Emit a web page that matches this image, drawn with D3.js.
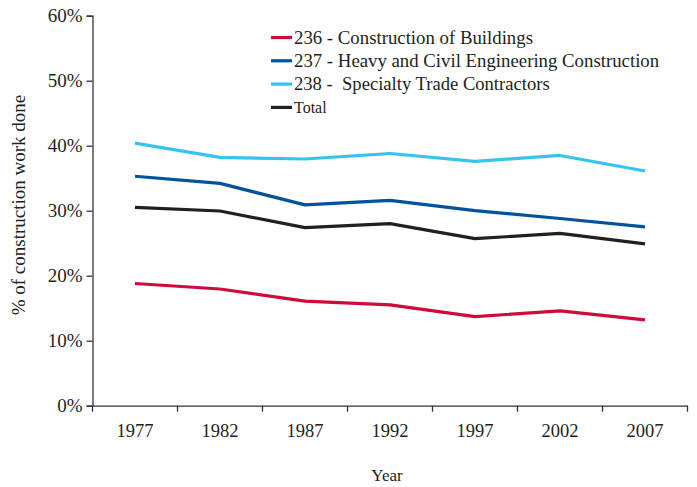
<!DOCTYPE html>
<html>
<head>
<meta charset="utf-8">
<script src="https://cdn.jsdelivr.net/npm/d3@7"></script>
<style>
  html, body { margin: 0; padding: 0; background: #fff; }
  svg text { font-family: "Liberation Serif", "Times New Roman", serif; fill: #231f20; white-space: pre; }
</style>
</head>
<body>
<svg id="chart" width="697" height="487"></svg>
<script>
const years = ["1977", "1982", "1987", "1992", "1997", "2002", "2007"];
const buildings236 = [18.8, 17.95, 16.1, 15.5, 13.7, 14.6, 13.2];
const heavyCivil237 = [35.3, 34.2, 30.9, 31.6, 30.0, 28.8, 27.5];
const specialty238 = [40.4, 38.2, 37.95, 38.8, 37.6, 38.5, 36.1];
const total = [30.5, 29.95, 27.4, 28.0, 25.7, 26.5, 24.9];
const seriesNames = ["236 - Construction of Buildings", "237 - Heavy and Civil Engineering Construction", "238 -  Specialty Trade Contractors", "Total"];
const yTicks = [0, 10, 20, 30, 40, 50, 60];

const seriesColors = ["#cf0a3c", "#00529c", "#36c3f0", "#231f20"];
const seriesValues = [buildings236, heavyCivil237, specialty238, total];
const legendFont = [18.8, 18.8, 18.6, 16];

const svg = d3.select("#chart");
const plotLeft = 92.5, plotRight = 687.5, plotTop = 15.7, plotBottom = 405.7;

const x = d3.scaleBand().domain(years).range([plotLeft, plotRight]);
const y = d3.scaleLinear().domain([0, 60]).range([plotBottom, plotTop]);

// Y axis
const yAxis = svg.append("g")
  .attr("transform", `translate(${plotLeft},0)`)
  .call(d3.axisLeft(y).tickValues(yTicks).tickFormat(d => d + "%").tickSize(6).tickPadding(4));
yAxis.select(".domain").attr("stroke", "#333").attr("stroke-width", 1.3);
yAxis.selectAll(".tick line").attr("stroke", "#333").attr("stroke-width", 1.3);
yAxis.selectAll(".tick text").attr("font-size", 19).attr("fill", "#231f20");

// X axis
const xAxis = svg.append("g")
  .attr("transform", `translate(0,${plotBottom})`)
  .call(d3.axisBottom(x).tickSize(0).tickPadding(18).tickSizeOuter(0));
xAxis.select(".domain").attr("stroke", "#333").attr("stroke-width", 1.3);
xAxis.selectAll(".tick text").attr("font-size", 18.5).attr("fill", "#231f20");
// boundary tick marks between categories
const edges = years.map(d => x(d)).concat([x(years[years.length - 1]) + x.bandwidth()]);
xAxis.selectAll(".edge").data(edges).enter().append("line")
  .attr("x1", d => d).attr("x2", d => d).attr("y1", 0).attr("y2", 6)
  .attr("stroke", "#333").attr("stroke-width", 1.3);

// Axis titles
svg.append("text").attr("x", 387).attr("y", 481).attr("text-anchor", "middle")
  .attr("font-size", 17).text("Year");
svg.append("text").attr("transform", "translate(25,205) rotate(-90)").attr("text-anchor", "middle")
  .attr("font-size", 19).text("% of construction work done");

// Lines
const line = d3.line()
  .x((d, i) => x(years[i]) + x.bandwidth() / 2)
  .y(d => y(d));
seriesValues.forEach((vals, k) => {
  svg.append("path").datum(vals)
    .attr("fill", "none")
    .attr("stroke", seriesColors[k])
    .attr("stroke-width", 3.2)
    .attr("stroke-linejoin", "round")
    .attr("d", line);
});

// Legend
const leg = svg.append("g");
seriesNames.forEach((name, k) => {
  const cy = 37.5 + k * 23.3;
  leg.append("line").attr("x1", 271).attr("x2", 292).attr("y1", cy).attr("y2", cy)
    .attr("stroke", seriesColors[k]).attr("stroke-width", 3.2);
  leg.append("text").attr("x", 294).attr("y", cy + 6).attr("font-size", legendFont[k]).text(name);
});
</script>
</body>
</html>
